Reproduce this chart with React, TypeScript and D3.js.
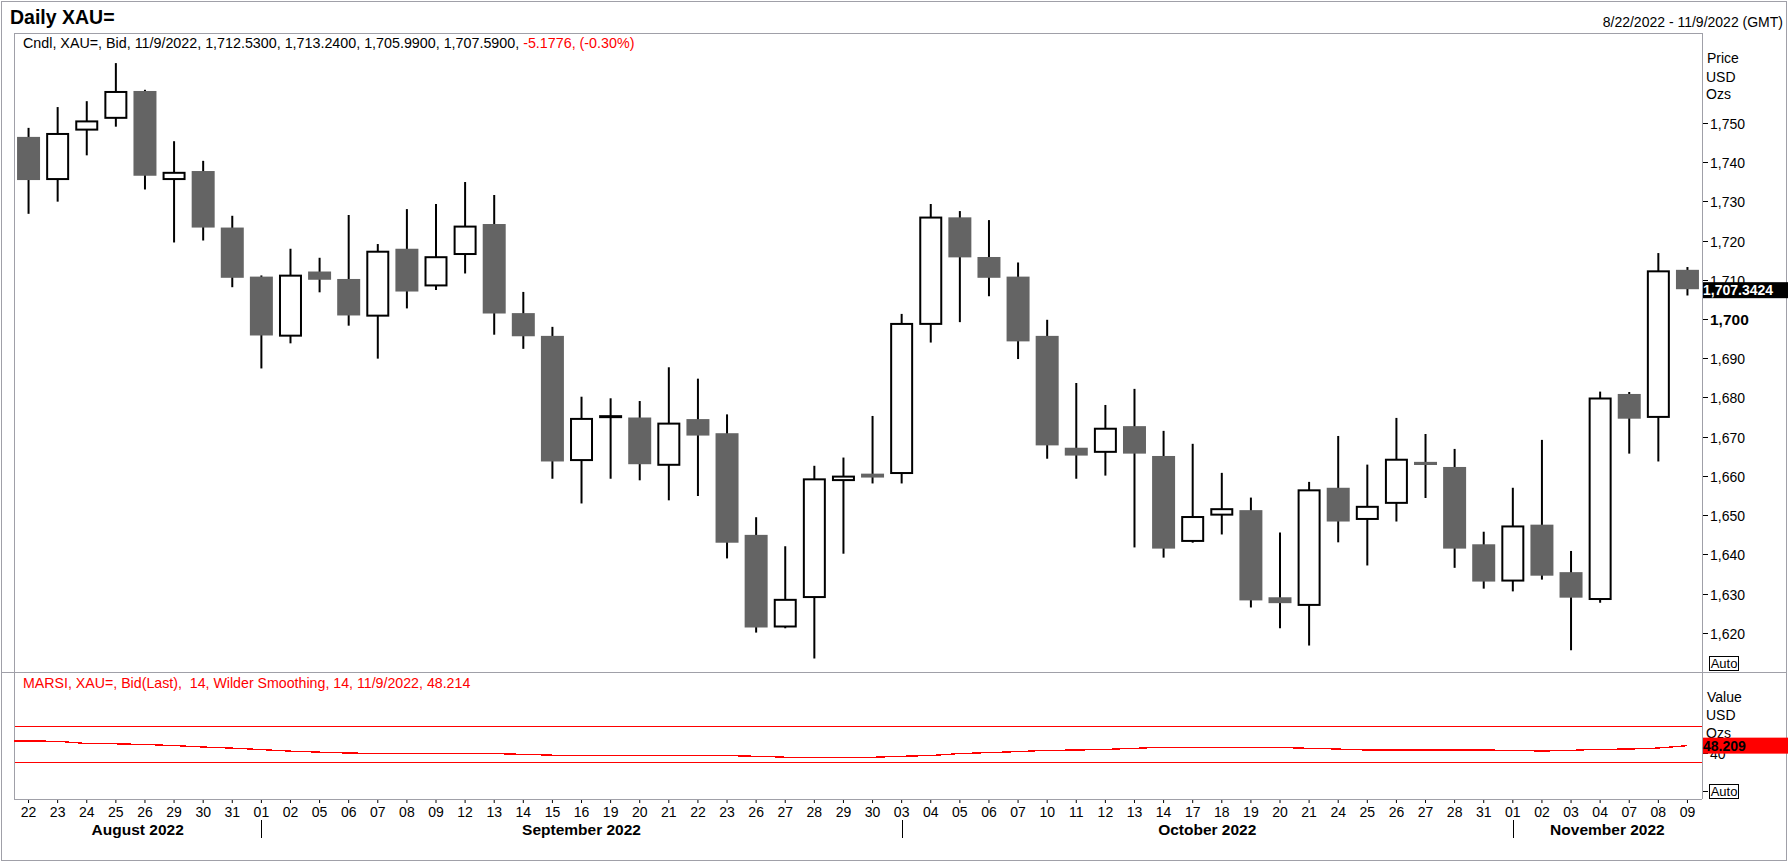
import { useMemo } from "react"
import * as d3 from "d3"

// trading days shown on the chart
const dates = [
  "2022-08-22", "2022-08-23", "2022-08-24", "2022-08-25", "2022-08-26", "2022-08-29", "2022-08-30", "2022-08-31",
  "2022-09-01", "2022-09-02", "2022-09-05", "2022-09-06", "2022-09-07", "2022-09-08", "2022-09-09", "2022-09-12",
  "2022-09-13", "2022-09-14", "2022-09-15", "2022-09-16", "2022-09-19", "2022-09-20", "2022-09-21", "2022-09-22",
  "2022-09-23", "2022-09-26", "2022-09-27", "2022-09-28", "2022-09-29", "2022-09-30",
  "2022-10-03", "2022-10-04", "2022-10-05", "2022-10-06", "2022-10-07", "2022-10-10", "2022-10-11", "2022-10-12",
  "2022-10-13", "2022-10-14", "2022-10-17", "2022-10-18", "2022-10-19", "2022-10-20", "2022-10-21", "2022-10-24",
  "2022-10-25", "2022-10-26", "2022-10-27", "2022-10-28", "2022-10-31",
  "2022-11-01", "2022-11-02", "2022-11-03", "2022-11-04", "2022-11-07", "2022-11-08", "2022-11-09",
]

const open = [
  1746.4, 1735.4, 1748.0, 1751.0, 1758.1, 1735.4, 1737.7, 1723.3,
  1710.8, 1695.5, 1712.1, 1710.2, 1700.6, 1717.9, 1708.3, 1716.3,
  1724.2, 1701.5, 1695.7, 1663.8, 1674.8, 1674.9, 1662.6, 1674.5,
  1670.9, 1645.0, 1621.4, 1628.9, 1658.7, 1660.6,
  1660.5, 1698.5, 1725.9, 1715.8, 1710.8, 1695.7, 1667.2, 1665.9,
  1672.7, 1665.1, 1643.2, 1649.9, 1651.3, 1629.1, 1626.9, 1657.0,
  1648.8, 1652.9, 1663.6, 1662.3, 1642.6,
  1633.1, 1647.6, 1635.5, 1628.4, 1680.9, 1674.8, 1712.53,
]
const high = [
  1748.7, 1754.0, 1755.5, 1765.2, 1758.4, 1745.3, 1740.3, 1726.3,
  1711.1, 1717.9, 1715.6, 1726.5, 1719.1, 1728.0, 1729.3, 1734.9,
  1731.6, 1706.9, 1698.0, 1680.2, 1679.8, 1679.1, 1687.7, 1684.8,
  1675.7, 1649.5, 1642.1, 1662.6, 1664.7, 1675.3,
  1701.3, 1729.3, 1727.5, 1725.2, 1714.4, 1699.8, 1683.7, 1678.1,
  1682.2, 1671.5, 1668.2, 1660.8, 1654.5, 1645.6, 1658.5, 1670.2,
  1662.9, 1674.8, 1670.7, 1666.9, 1645.8,
  1657.0, 1669.2, 1640.9, 1681.5, 1681.4, 1716.8, 1713.24,
]
const low = [
  1726.8, 1729.9, 1741.7, 1749.0, 1733.0, 1719.5, 1720.0, 1708.1,
  1687.4, 1693.8, 1706.8, 1698.3, 1689.9, 1702.7, 1707.4, 1711.6,
  1696.0, 1692.4, 1659.3, 1653.0, 1659.3, 1658.9, 1653.8, 1654.9,
  1639.0, 1620.1, 1621.2, 1613.5, 1640.2, 1658.1,
  1658.1, 1694.0, 1699.2, 1705.8, 1689.8, 1664.4, 1659.3, 1660.1,
  1641.8, 1639.2, 1643.0, 1645.1, 1626.5, 1621.2, 1616.8, 1643.1,
  1637.2, 1648.4, 1654.4, 1636.6, 1631.3,
  1630.6, 1633.6, 1615.6, 1627.7, 1665.7, 1663.7, 1705.99,
]
const close = [
  1735.4, 1747.4, 1750.6, 1758.1, 1736.5, 1737.5, 1723.3, 1710.5,
  1695.8, 1711.3, 1710.0, 1700.9, 1717.4, 1707.0, 1716.0, 1723.8,
  1701.4, 1695.6, 1663.7, 1674.8, 1675.5, 1663.0, 1673.6, 1670.3,
  1643.0, 1621.4, 1628.7, 1659.4, 1660.1, 1659.6,
  1699.0, 1726.1, 1715.7, 1710.5, 1694.3, 1667.8, 1665.2, 1672.3,
  1665.7, 1641.5, 1649.8, 1651.8, 1628.3, 1627.6, 1656.6, 1648.4,
  1652.4, 1664.4, 1662.8, 1641.5, 1633.1,
  1647.4, 1634.6, 1629.0, 1680.0, 1674.6, 1712.4, 1707.59,
]

// MARSI 14, Wilder smoothing
const rsi = [
  53.3, 53.0, 50.5, 50.2, 49.5, 48.3, 46.7, 45.5,
  43.9, 42.2, 41.1, 40.1, 39.8, 39.8, 39.8, 39.8,
  39.5, 38.7, 37.8, 37.7, 37.7, 37.7, 37.7, 37.7,
  37.3, 36.6, 35.6, 35.5, 35.5, 35.5,
  36.6, 37.4, 39.6, 40.6, 41.7, 43.1, 43.4, 44.1,
  45.3, 46.4, 46.4, 46.4, 46.4, 46.2, 45.3, 44.5,
  43.4, 43.4, 43.4, 43.4, 43.4,
  43.1, 42.3, 43.1, 44.2, 44.5, 45.6, 48.2,
]
const rsiLevels = [30, 70]
const rsiTicks = [40]

const priceTicks = [1620, 1630, 1640, 1650, 1660, 1670, 1680, 1690, 1700, 1710, 1720, 1730, 1740, 1750]
const boldTick = 1700
const lastPrice = 1707.3424
const lastRsi = 48.209

const title = "Daily XAU="
const range = "8/22/2022 - 11/9/2022 (GMT)"
const header = "Cndl, XAU=, Bid, 11/9/2022, 1,712.5300, 1,713.2400, 1,705.9900, 1,707.5900, "
const headerChange = "-5.1776, (-0.30%)"
const rsiHeader = "MARSI, XAU=, Bid(Last),  14, Wilder Smoothing, 14, 11/9/2022, 48.214"

const FONT = "'Liberation Sans', Arial, sans-serif"
const W = 1788
const H = 862
const BORDER = "#a0a0a8"
const DOWN = "#646464"
const RED = "#ff0000"

export default function App() {
  const left = 14
  const right = 1702
  const priceTop = 33
  const priceBottom = 672
  const rsiBottom = 799

  const x = useMemo(
    () => d3.scaleBand<string>().domain(dates).range([left, right]).paddingInner(0.21).paddingOuter(0.105),
    []
  )
  const y = d3.scaleLinear().domain([1610.06, 1772.87]).range([priceBottom, priceTop])
  const yR = d3.scaleLinear().domain([-10.1, 128.7]).range([rsiBottom, priceBottom])

  const bw = x.bandwidth()
  const cx = (d: string) => (x(d) as number) + bw / 2
  const parse = d3.timeParse("%Y-%m-%d")
  const fmtDay = d3.timeFormat("%d")
  const fmtMonth = d3.timeFormat("%B %Y")
  const fmtPrice = d3.format(",")

  // month groups
  const months = d3.groups(dates, (d) => d.slice(0, 7))
  const monthStarts = months.slice(1).map(([, ds]) => cx(ds[0]))
  const bounds = [left, ...monthStarts, right]

  const rsiPts: [number, number][] = [[left, yR(rsi[0])], ...dates.map((d, i) => [cx(d), yR(rsi[i])] as [number, number])]
  const rsiLine = d3.line()(rsiPts) as string

  return (
    <div style={{ position: "absolute", left: 0, top: 0 }}>
      <svg width={W} height={H} style={{ display: "block", fontFamily: FONT, background: "#fff" }}>
        <rect x={1.5} y={1.5} width={W - 3} height={H - 3} fill="#fff" stroke={BORDER} />

        <text x={10} y={24} fontSize={19.5} fontWeight="bold" fill="#000">{title}</text>
        <text x={1783} y={27} fontSize={14} textAnchor="end" fill="#000">{range}</text>

        {/* panel frames */}
        <line x1={left} x2={right} y1={priceTop + 0.5} y2={priceTop + 0.5} stroke={BORDER} />
        <line x1={left + 0.5} x2={left + 0.5} y1={priceTop} y2={rsiBottom} stroke={BORDER} />
        <line x1={right + 0.5} x2={right + 0.5} y1={priceTop} y2={rsiBottom} stroke={BORDER} />
        <line x1={2} x2={W - 2} y1={priceBottom + 0.5} y2={priceBottom + 0.5} stroke={BORDER} />
        <line x1={left} x2={right} y1={rsiBottom + 0.5} y2={rsiBottom + 0.5} stroke={BORDER} />

        <text x={23} y={48} fontSize={14.3} fill="#000" style={{ whiteSpace: "pre" }}>
          {header}
          <tspan fill={RED}>{headerChange}</tspan>
        </text>

        {/* candles */}
        {dates.map((d, i) => {
          const up = close[i] >= open[i]
          const c = cx(d)
          const top = y(Math.max(open[i], close[i]))
          const bot = y(Math.min(open[i], close[i]))
          return (
            <g key={d}>
              <line x1={c} x2={c} y1={y(high[i])} y2={y(low[i])} stroke="#000" strokeWidth={2} />
              {up ? (
                <rect x={(x(d) as number) + 1} y={top + 1} width={bw - 2} height={Math.max(bot - top - 2, 1)}
                  fill="#fff" stroke="#000" strokeWidth={2} />
              ) : (
                <rect x={x(d) as number} y={top} width={bw} height={Math.max(bot - top, 2)} fill={DOWN} />
              )}
            </g>
          )
        })}

        {/* price axis */}
        <text x={1707} y={63} fontSize={14} fill="#000">Price</text>
        <text x={1706} y={82} fontSize={14} fill="#000">USD</text>
        <text x={1706} y={99} fontSize={14} fill="#000">Ozs</text>
        {priceTicks.map((t) => (
          <g key={t} transform={`translate(0,${Math.round(y(t)) + 0.5})`}>
            <line x1={right + 1} x2={right + 6} stroke="#000" />
            <text x={right + 8} dy="0.36em" fontSize={t === boldTick ? 15.5 : 14}
              fontWeight={t === boldTick ? "bold" : "normal"} fill="#000">{fmtPrice(t)}</text>
          </g>
        ))}
        <rect x={right + 1} y={y(lastPrice) - 8} width={W - right - 1} height={16} fill="#000" />
        <text x={right + 1} y={y(lastPrice)} dy="0.36em" fontSize={14} fontWeight="bold" fill="#fff">
          {d3.format(",.4f")(lastPrice)}
        </text>
        <rect x={1709.5} y={656.5} width={29} height={14} fill="#fff" stroke="#000" />
        <text x={1724} y={668} fontSize={13} textAnchor="middle" fill="#000">Auto</text>

        {/* RSI panel */}
        <text x={23} y={687.5} fontSize={14.2} fill={RED} style={{ whiteSpace: "pre" }}>{rsiHeader}</text>
        {rsiLevels.map((l) => (
          <line key={l} x1={left + 1} x2={right} y1={Math.round(yR(l)) + 0.5} y2={Math.round(yR(l)) + 0.5}
            stroke={RED} strokeWidth={1.3} shapeRendering="crispEdges" />
        ))}
        <path d={rsiLine} fill="none" stroke={RED} strokeWidth={1.3} shapeRendering="crispEdges" />

        <text x={1707} y={701.5} fontSize={14} fill="#000">Value</text>
        <text x={1706} y={720} fontSize={14} fill="#000">USD</text>
        <text x={1706} y={737.5} fontSize={14} fill="#000">Ozs</text>
        {rsiTicks.map((t) => (
          <g key={t} transform={`translate(0,${Math.round(yR(t)) + 0.5})`}>
            <line x1={right + 1} x2={right + 6} stroke="#000" />
            <text x={right + 8} dy="0.36em" fontSize={14} fill="#000">{t}</text>
          </g>
        ))}
        <rect x={right + 1} y={yR(lastRsi) - 8} width={W - right - 1} height={16} fill={RED} />
        <text x={right + 1} y={yR(lastRsi)} dy="0.36em" fontSize={14} fontWeight="bold" fill="#000">
          {d3.format(".3f")(lastRsi)}
        </text>
        <line x1={right + 1} x2={right + 6} y1={791.5} y2={791.5} stroke="#000" />
        <rect x={1709.5} y={784.5} width={29} height={14} fill="#fff" stroke="#000" />
        <text x={1724} y={796} fontSize={13} textAnchor="middle" fill="#000">Auto</text>

        {/* date axis */}
        {dates.map((d) => (
          <g key={d} transform={`translate(${cx(d)},0)`}>
            <line y1={rsiBottom + 1} y2={rsiBottom + 4} stroke="#000" />
            <text y={816.5} fontSize={14} textAnchor="middle" fill="#000">{fmtDay(parse(d) as Date)}</text>
          </g>
        ))}
        {monthStarts.map((m) => (
          <line key={m} x1={Math.round(m) + 0.5} x2={Math.round(m) + 0.5} y1={820} y2={838} stroke="#000" />
        ))}
        {months.map(([k, ds], i) => (
          <text key={k} x={(bounds[i] + bounds[i + 1]) / 2} y={835} fontSize={15.5} fontWeight="bold"
            textAnchor="middle" fill="#000">{fmtMonth(parse(ds[0]) as Date)}</text>
        ))}
      </svg>
    </div>
  )
}
